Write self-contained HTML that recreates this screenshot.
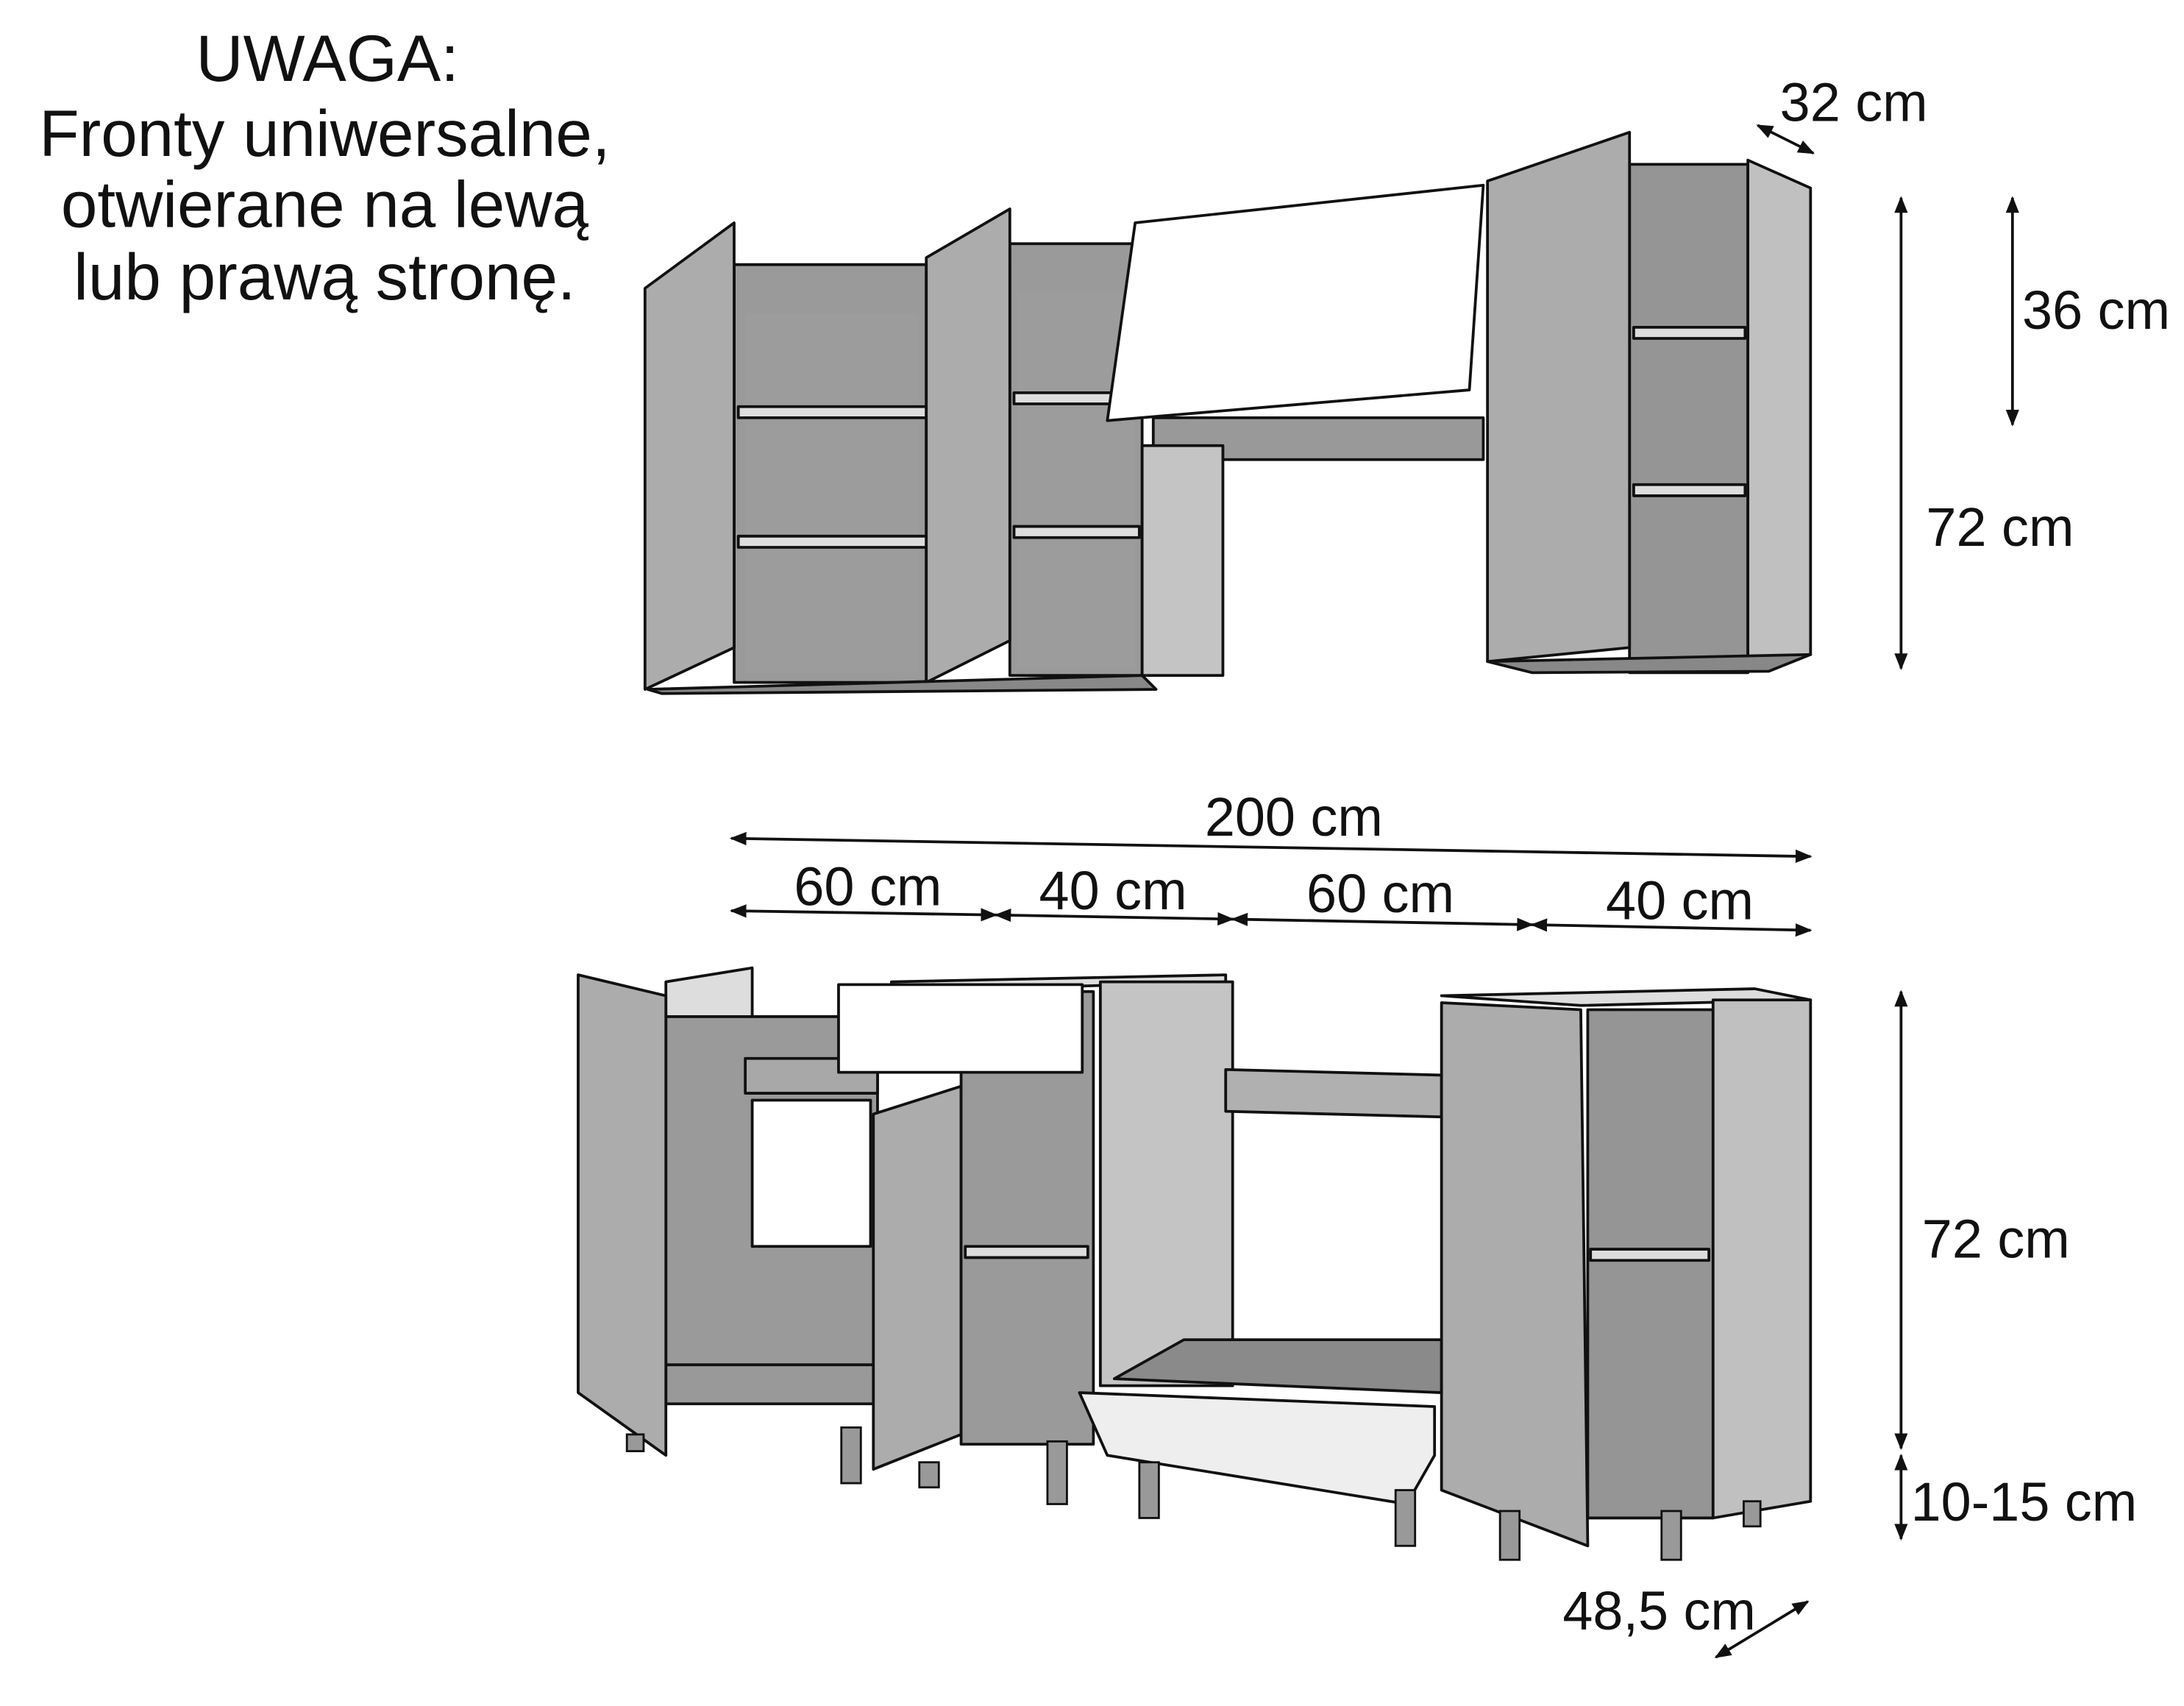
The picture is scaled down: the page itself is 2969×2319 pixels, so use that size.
<!DOCTYPE html>
<html><head><meta charset="utf-8"><style>
html,body{margin:0;padding:0;background:#fff}
svg{display:block}
text{font-family:"Liberation Sans","Noto Sans CJK SC",sans-serif;fill:#111}
</style></head><body>
<svg width="2969" height="2319" viewBox="0 0 1568 1225" xmlns="http://www.w3.org/2000/svg">
<defs>
<marker id="a" viewBox="0 0 10 10" refX="9" refY="5" markerWidth="6" markerHeight="6" orient="auto-start-reverse"><path d="M0,1 L10,5 L0,9 z" fill="#111"/></marker>
</defs>
<g font-size="47" text-anchor="middle">
<text x="235" y="58">UWAGA:</text>
<text x="233" y="112">Fronty uniwersalne,</text>
<text x="233" y="163">otwierane na lewą</text>
<text x="233" y="215">lub prawą stronę.</text>
</g>
<g stroke="#111" stroke-width="2" stroke-linejoin="round">
<rect x="527" y="190" width="138" height="300" fill="#9a9a9a"/>
<rect x="535" y="225" width="125" height="258" fill="#9c9c9c" stroke="none"/>
<rect x="530" y="292" width="135" height="8" fill="#ddd"/>
<rect x="530" y="385" width="135" height="8" fill="#ddd"/>
<polygon points="463,207 527,160 527,465 463,495" fill="#acacac"/>
<rect x="725" y="175" width="95" height="310" fill="#9a9a9a"/>
<rect x="730" y="210" width="85" height="270" fill="#9c9c9c" stroke="none"/>
<rect x="728" y="282" width="90" height="8" fill="#ddd"/>
<rect x="728" y="378" width="90" height="8" fill="#ddd"/>
<polygon points="665,185 725,150 725,460 665,490" fill="#acacac"/>
<polygon points="465,495 820,485 830,495 475,498" fill="#888"/>
<rect x="828" y="300" width="237" height="30" fill="#999"/>
<polygon points="820,320 878,320 878,485 820,485" fill="#c4c4c4"/>
<polygon points="815,160 1065,133 1055,280 795,302" fill="#fff"/>
<rect x="1170" y="118" width="85" height="365" fill="#959595"/>
<rect x="1173" y="235" width="80" height="8" fill="#ddd"/>
<rect x="1173" y="348" width="80" height="8" fill="#ddd"/>
<polygon points="1255,115 1300,135 1300,470 1255,475" fill="#c0c0c0"/>
<polygon points="1068,130 1170,95 1170,465 1068,475" fill="#acacac"/>
<polygon points="1068,475 1300,470 1270,482 1100,483" fill="#888"/>
<polygon points="478,705 540,695 540,730 478,730" fill="#ddd"/>
<rect x="478" y="730" width="152" height="275" fill="#9a9a9a"/>
<rect x="540" y="790" width="85" height="105" fill="#fff"/>
<rect x="535" y="760" width="95" height="25" fill="#a8a8a8"/>
<polygon points="478,980 630,980 630,1008 478,1008" fill="#999"/>
<polygon points="415,700 478,715 478,1045 415,1000" fill="#acacac"/>
<polygon points="627,800 690,780 690,1030 627,1055" fill="#acacac"/>
<polygon points="640,705 880,700 880,705 640,712" fill="#ddd"/>
<rect x="690" y="712" width="95" height="325" fill="#9a9a9a"/>
<rect x="693" y="895" width="88" height="8" fill="#ddd"/>
<rect x="602" y="707" width="175" height="63" fill="#fff"/>
<rect x="790" y="705" width="95" height="290" fill="#c4c4c4"/>
<polygon points="880,768 1035,772 1035,802 880,798" fill="#b0b0b0"/>
<polygon points="800,990 850,962 1035,962 1035,1000" fill="#8a8a8a"/>
<polygon points="775,1000 1030,1010 1030,1045 1010,1080 795,1045" fill="#eee"/>
<polygon points="1035,715 1260,710 1300,718 1135,722" fill="#ddd"/>
<rect x="1140" y="725" width="90" height="365" fill="#959595"/>
<rect x="1142" y="897" width="85" height="8" fill="#ddd"/>
<polygon points="1230,718 1300,718 1300,1078 1230,1090" fill="#c0c0c0"/>
<polygon points="1035,720 1135,725 1140,1110 1035,1070" fill="#acacac"/>
</g>
<g fill="#999" stroke="#111" stroke-width="1.5">
<rect x="450" y="1030" width="12" height="12"/><rect x="604" y="1025" width="14" height="40"/>
<rect x="660" y="1050" width="14" height="18"/><rect x="752" y="1035" width="14" height="45"/>
<rect x="818" y="1050" width="14" height="40"/><rect x="1002" y="1070" width="14" height="40"/>
<rect x="1077" y="1085" width="14" height="35"/><rect x="1193" y="1085" width="14" height="35"/>
<rect x="1252" y="1078" width="12" height="18"/>
</g>
<g stroke="#111" stroke-width="2" marker-start="url(#a)" marker-end="url(#a)">
<line x1="1262" y1="90" x2="1302" y2="110"/>
<line x1="1445" y1="142" x2="1445" y2="305"/>
<line x1="1365" y1="142" x2="1365" y2="480"/>
<line x1="525" y1="602" x2="1300" y2="615"/>
<line x1="525" y1="654" x2="715" y2="657"/>
<line x1="715" y1="657" x2="885" y2="660"/>
<line x1="885" y1="660" x2="1100" y2="664"/>
<line x1="1100" y1="664" x2="1300" y2="668"/>
<line x1="1365" y1="712" x2="1365" y2="1040"/>
<line x1="1365" y1="1045" x2="1365" y2="1105"/>
<line x1="1232" y1="1190" x2="1298" y2="1150"/>
</g>
<g font-size="39">
<text x="1278" y="87">32 cm</text>
<text x="1452" y="236">36 cm</text>
<text x="1383" y="392">72 cm</text>
<text x="865" y="600">200 cm</text>
<text x="570" y="650">60 cm</text>
<text x="746" y="653">40 cm</text>
<text x="938" y="655">60 cm</text>
<text x="1153" y="660">40 cm</text>
<text x="1380" y="903">72 cm</text>
<text x="1372" y="1092">10-15 cm</text>
<text x="1122" y="1170">48,5 cm</text>
</g>
</svg>
</body></html>
